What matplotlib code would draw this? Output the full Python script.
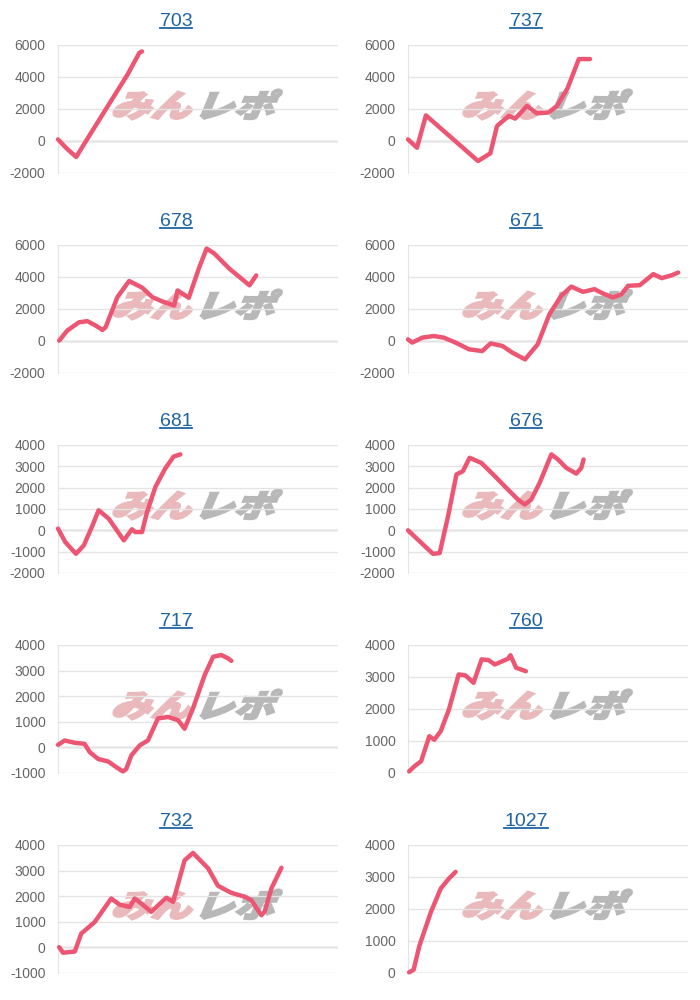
import numpy as np
import matplotlib.pyplot as plt
from matplotlib.textpath import TextPath
from matplotlib.patches import PathPatch
from matplotlib.font_manager import FontProperties
from matplotlib.transforms import Affine2D
from matplotlib.lines import Line2D

plt.rcParams['font.family'] = ['Liberation Sans', 'DejaVu Sans']
plt.rcParams['axes.unicode_minus'] = False

titles = ['703', '737', '678', '671', '681', '676', '717', '760', '732', '1027']

# x: share of the plot width (0-100), y: difference in coins
x_703 = [0, 3, 6.5, 10, 15, 20, 25, 29, 30]
y_703 = [100, -450, -1000, 0, 1400, 2800, 4200, 5500, 5600]

x_737 = [0, 3.2, 6.4, 25, 29.4, 31.8, 36, 38.3, 42.5, 46, 50.2, 53.2, 57, 61, 65]
y_737 = [100, -420, 1600, -1250, -770, 940, 1570, 1400, 2190, 1730, 1780, 2190, 3300, 5120, 5120]

x_678 = [0.4, 3.3, 7.5, 10.5, 13.5, 15.9, 17, 21.2, 25.4, 30.1, 33.7, 37.3, 41.5, 42.7,
         46.7, 50.5, 53.1, 55.8, 61.2, 68.4, 70.8]
y_678 = [20, 650, 1170, 1240, 960, 690, 860, 2740, 3750, 3330, 2740, 2470, 2220, 3160,
         2700, 4630, 5780, 5470, 4520, 3480, 4100]

x_671 = [0, 1.5, 5.1, 9.2, 12.8, 17, 21.8, 26.5, 29.5, 33.7, 37.3, 41.8, 46.3, 50.5, 54.7,
         58.3, 62.5, 66.6, 69.6, 73.2, 76.2, 78.6, 82.8, 87.6, 90.6, 94.2, 96.5]
y_671 = [100, -100, 210, 310, 210, -100, -520, -630, -150, -310, -730, -1150, -210, 1670, 2820,
         3400, 3070, 3240, 2970, 2720, 2920, 3450, 3490, 4180, 3930, 4110, 4280]

x_681 = [0, 2.6, 6.4, 9.2, 12.1, 14.5, 18.1, 23.5, 26.4, 27.6, 30, 31.8, 34.8, 38.3, 41.3, 43.7]
y_681 = [80, -550, -1100, -710, 160, 940, 550, -470, 50, -80, -80, 860, 2040, 2900, 3460, 3560]

x_676 = [0, 4.2, 8.9, 11.3, 14.3, 17.3, 19.6, 22, 26.2, 31, 35.7, 39.3, 41.7, 44, 47,
         51.2, 53.6, 56.5, 60.1, 61.9, 62.7]
y_676 = [0, -520, -1100, -1070, 660, 2620, 2770, 3400, 3160, 2540, 1910, 1440, 1210, 1440, 2220,
         3560, 3320, 2930, 2660, 2930, 3320]

x_717 = [0, 2.4, 6, 9.5, 11.3, 14.3, 17.9, 20.8, 23.2, 24.4, 26.2, 29.2, 32.1, 35.7, 39.3,
         42.9, 45.2, 48.2, 52.4, 55.4, 58.3, 60.7, 61.9]
y_717 = [100, 270, 180, 140, -180, -450, -550, -770, -940, -840, -310, 80, 270, 1130, 1190,
         1060, 730, 1520, 2830, 3540, 3610, 3480, 3380]

x_760 = [0.4, 2.3, 4.7, 7.6, 9.4, 11.7, 14.6, 18.1, 20.5, 23.4, 26.3, 28.7, 31, 35.7, 36.6, 38.6, 42.1]
y_760 = [50, 210, 370, 1150, 1040, 1310, 1980, 3080, 3050, 2820, 3550, 3530, 3390, 3570, 3680, 3290, 3180]

x_732 = [0.4, 1.8, 6, 8.3, 13.1, 19, 22, 25.6, 27.4, 29.8, 33.3, 38.7, 41.1, 45.2, 48.2,
         53.6, 57.1, 61.9, 66.7, 69, 72.6, 73.8, 76.2, 79.8]
y_732 = [10, -210, -160, 540, 990, 1910, 1670, 1580, 1910, 1710, 1390, 1940, 1780, 3400, 3690,
         3090, 2410, 2130, 1980, 1850, 1260, 1390, 2300, 3110]

x_1027 = [0.4, 2, 4.1, 8.2, 11.7, 14.6, 17]
y_1027 = [20, 100, 860, 1910, 2640, 2950, 3160]

xs = [x_703, x_737, x_678, x_671, x_681, x_676, x_717, x_760, x_732, x_1027]
ys = [y_703, y_737, y_678, y_671, y_681, y_676, y_717, y_760, y_732, y_1027]

# y range and tick step for each panel
y_ranges = [(-2000, 6000, 2000), (-2000, 6000, 2000),
            (-2000, 6000, 2000), (-2000, 6000, 2000),
            (-2000, 4000, 1000), (-2000, 4000, 1000),
            (-1000, 4000, 1000), (0, 4000, 1000),
            (-1000, 4000, 1000), (0, 4000, 1000)]

line_color = '#ec5672'
link_color = '#1e63a3'

fig = plt.figure(figsize=(7, 10), dpi=100)

wm_font = FontProperties(family='Noto Sans CJK JP', weight='heavy')
path_min = TextPath((0, 0), 'みん', prop=wm_font, size=33)
path_repo = TextPath((0, 0), 'レポ', prop=wm_font, size=33)


def watermark(ax, px, py):
    # little logo in the middle of every panel, in pixel units
    for path, dx, color in [(path_min, 0, '#e9b9bc'), (path_repo, 83, '#b8b8b8')]:
        tr = (Affine2D().skew_deg(18, 0).scale(1.22, 0.95).translate(px + dx, py)
              .scale(1 / fig.dpi) + fig.dpi_scale_trans)
        ax.add_patch(PathPatch(path, transform=tr, facecolor=color, edgecolor=color,
                               lw=1.6, zorder=1.5, clip_on=False))


title_texts = []
for i, name in enumerate(titles):
    row, col = divmod(i, 2)
    left = (58 + 350 * col) / 700
    bottom = 1 - (173 + 200 * row) / 1000
    ax = fig.add_axes([left, bottom, 280 / 700, 128 / 1000])
    ax.set_facecolor('none')

    lo, hi, step = y_ranges[i]
    ax.set_ylim(lo, hi)
    ax.set_yticks(np.arange(lo, hi + 1, step))
    ax.set_xlim(0, 100)
    ax.set_xticks([])
    ax.grid(axis='y', color='#e4e4e4', lw=1, zorder=0)
    ax.axhline(0, color='#bcbcbc', lw=1, zorder=1)
    for s in ['top', 'right', 'bottom']:
        ax.spines[s].set_visible(False)
    ax.spines['left'].set_color('#e4e4e4')
    ax.tick_params(axis='y', length=0, pad=9, labelsize=10, labelcolor='#666666')

    watermark(ax, 110 + 350 * col, 1000 - (117 + 200 * row))

    ax.plot(xs[i], ys[i], color=line_color, lw=3.2, solid_joinstyle='round',
            solid_capstyle='round', zorder=3, clip_on=False)

    t = fig.text((176 + 350 * col) / 700, 1 - (22 + 200 * row) / 1000, name,
                 ha='center', va='center', fontsize=14, color=link_color)
    title_texts.append(t)

# underline the titles like links
fig.canvas.draw()
inv = fig.transFigure.inverted()
for t in title_texts:
    bb = t.get_window_extent()
    (x0, y0), (x1, _) = inv.transform([(bb.x0, bb.y0 + 2.5), (bb.x1, bb.y0)])
    fig.add_artist(Line2D([x0, x1], [y0, y0], color=link_color, lw=1.3,
                          transform=fig.transFigure))

fig.savefig('out.png', dpi=100)
